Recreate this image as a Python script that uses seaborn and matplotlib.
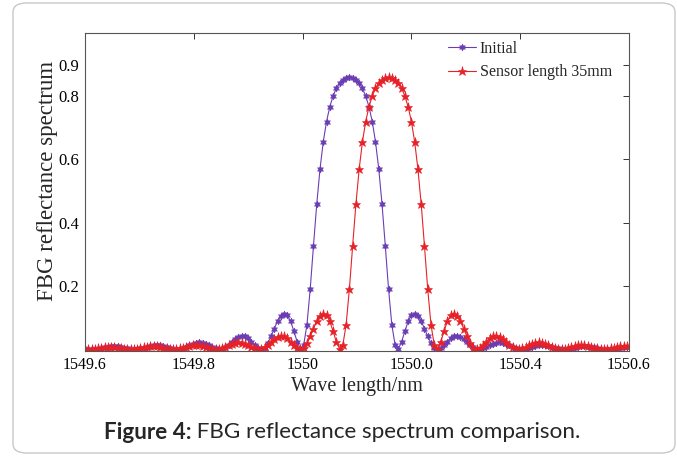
import numpy as np
import pandas as pd
import matplotlib
matplotlib.use("Agg")
import matplotlib.pyplot as plt
from matplotlib.patches import FancyBboxPatch
import seaborn as sns

# ---------------- data ----------------
wl_start = 1549.6   # nm, first sample
wl_step = 0.006     # nm, sample spacing

initial = [
    0.0018, 0.0006, 0.0000, 0.0003, 0.0015, 0.0032, 0.0053, 0.0072, 0.0085, 0.0090,
    0.0084, 0.0069, 0.0048, 0.0026, 0.0009, 0.0000, 0.0004, 0.0021, 0.0047, 0.0077,
    0.0106, 0.0126, 0.0134, 0.0126, 0.0104, 0.0073, 0.0040, 0.0013, 0.0000, 0.0007,
    0.0033, 0.0075, 0.0124, 0.0172, 0.0206, 0.0219, 0.0208, 0.0174, 0.0123, 0.0067,
    0.0021, 0.0000, 0.0014, 0.0064, 0.0144, 0.0239, 0.0330, 0.0396, 0.0424, 0.0405,
    0.0338, 0.0236, 0.0124, 0.0034, 0.0000, 0.0050, 0.0190, 0.0403, 0.0651, 0.0885,
    0.1056, 0.1126, 0.1068, 0.0875, 0.0569, 0.0230, 0.0010, 0.0133, 0.0773, 0.1900,
    0.3268, 0.4588, 0.5698, 0.6560, 0.7200, 0.7668, 0.8005, 0.8249, 0.8414, 0.8517,
    0.8580,
    0.8602,
    0.8580, 0.8517, 0.8414, 0.8249, 0.8005, 0.7668, 0.7200, 0.6560, 0.5698, 0.4588,
    0.3268, 0.1900, 0.0773, 0.0133, 0.0010, 0.0230, 0.0569, 0.0875, 0.1068, 0.1126,
    0.1056, 0.0885, 0.0651, 0.0403, 0.0190, 0.0050, 0.0000, 0.0034, 0.0124, 0.0236,
    0.0338, 0.0405, 0.0424, 0.0396, 0.0330, 0.0239, 0.0144, 0.0064, 0.0014, 0.0000,
    0.0021, 0.0067, 0.0123, 0.0174, 0.0208, 0.0219, 0.0206, 0.0172, 0.0124, 0.0075,
    0.0033, 0.0007, 0.0000, 0.0013, 0.0040, 0.0073, 0.0104, 0.0126, 0.0134, 0.0126,
    0.0106, 0.0077, 0.0047, 0.0021, 0.0004, 0.0000, 0.0009, 0.0026, 0.0048, 0.0069,
    0.0084, 0.0090, 0.0085, 0.0072, 0.0053, 0.0032, 0.0015, 0.0003, 0.0000, 0.0006,
    0.0018, 0.0033, 0.0048, 0.0059, 0.0064,
]

sensor_35mm = [
    0.0004, 0.0000, 0.0003, 0.0011, 0.0024, 0.0039, 0.0053, 0.0062, 0.0064, 0.0059,
    0.0048, 0.0033, 0.0018, 0.0006, 0.0000, 0.0003, 0.0015, 0.0032, 0.0053, 0.0072,
    0.0085, 0.0090, 0.0084, 0.0069, 0.0048, 0.0026, 0.0009, 0.0000, 0.0004, 0.0021,
    0.0047, 0.0077, 0.0106, 0.0126, 0.0134, 0.0126, 0.0104, 0.0073, 0.0040, 0.0013,
    0.0000, 0.0007, 0.0033, 0.0075, 0.0124, 0.0172, 0.0206, 0.0219, 0.0208, 0.0174,
    0.0123, 0.0067, 0.0021, 0.0000, 0.0014, 0.0064, 0.0144, 0.0239, 0.0330, 0.0396,
    0.0424, 0.0405, 0.0338, 0.0236, 0.0124, 0.0034, 0.0000, 0.0050, 0.0190, 0.0403,
    0.0651, 0.0885, 0.1056, 0.1126, 0.1068, 0.0875, 0.0569, 0.0230, 0.0010, 0.0133,
    0.0773, 0.1900, 0.3268, 0.4588, 0.5698, 0.6560, 0.7200, 0.7668, 0.8005, 0.8249,
    0.8414, 0.8517, 0.8580,
    0.8602,
    0.8580, 0.8517, 0.8414, 0.8249, 0.8005, 0.7668, 0.7200, 0.6560, 0.5698, 0.4588,
    0.3268, 0.1900, 0.0773, 0.0133, 0.0010, 0.0230, 0.0569, 0.0875, 0.1068, 0.1126,
    0.1056, 0.0885, 0.0651, 0.0403, 0.0190, 0.0050, 0.0000, 0.0034, 0.0124, 0.0236,
    0.0338, 0.0405, 0.0424, 0.0396, 0.0330, 0.0239, 0.0144, 0.0064, 0.0014, 0.0000,
    0.0021, 0.0067, 0.0123, 0.0174, 0.0208, 0.0219, 0.0206, 0.0172, 0.0124, 0.0075,
    0.0033, 0.0007, 0.0000, 0.0013, 0.0040, 0.0073, 0.0104, 0.0126, 0.0134, 0.0126,
    0.0106, 0.0077, 0.0047, 0.0021, 0.0004, 0.0000, 0.0009, 0.0026, 0.0048, 0.0069,
    0.0084, 0.0090, 0.0085,
]

series_names = ["Initial", "Sensor length 35mm"]
x_ticks = [1549.6, 1549.8, 1550.0, 1550.2, 1550.4, 1550.6]
x_tick_labels = ["1549.6", "1549.8", "1550", "1550.0", "1550.4", "1550.6"]
y_ticks = [0.2, 0.4, 0.6, 0.8, 0.9]
y_tick_labels = ["0.2", "0.4", "0.6", "0.8", "0.9"]

wavelength_1 = np.round(wl_start + wl_step * np.arange(len(initial)), 4)
wavelength_2 = np.round(wl_start + wl_step * np.arange(len(sensor_35mm)), 4)
df = pd.concat([
    pd.DataFrame({"wl": wavelength_1, "R": initial, "series": series_names[0]}),
    pd.DataFrame({"wl": wavelength_2, "R": sensor_35mm, "series": series_names[1]}),
], ignore_index=True)

# ---------------- style ----------------
sns.set_style("white")
plt.rcParams["font.family"] = ["Liberation Serif", "DejaVu Serif"]
plt.rcParams["mathtext.fontset"] = "stix"

W, H = 677, 461
fig = plt.figure(figsize=(W / 100, H / 100), dpi=100)
ax = fig.add_axes([85 / W, 1 - 351 / H, (629 - 85) / W, (351 - 33) / H])

purple = "#6b3db4"
red = "#e62228"
styles = {
    series_names[0]: dict(color=purple, marker=(6, 1, 0), ms=5.0),
    series_names[1]: dict(color=red, marker="*", ms=6.5),
}
for name in series_names:
    st = styles[name]
    sns.lineplot(data=df[df["series"] == name], x="wl", y="R", ax=ax,
                 color=st["color"], linewidth=0.8, marker=st["marker"],
                 markersize=st["ms"], markeredgecolor=st["color"],
                 markeredgewidth=0.4, label=name, sort=False, estimator=None)

ax.set_xlim(1549.6, 1550.6)
ax.set_ylim(-0.006, 1.0)
ax.set_xticks(x_ticks)
ax.set_xticklabels(x_tick_labels, fontsize=11.5)
ax.set_yticks(y_ticks)
ax.set_yticklabels(y_tick_labels, fontsize=12)
ax.tick_params(direction="in", length=4, width=0.7, top=True, right=True,
               colors="#333333", labelcolor="black", pad=4)
for sp in ax.spines.values():
    sp.set_visible(True)
    sp.set_color("#555555")
    sp.set_linewidth(0.8)

ax.set_xlabel("Wave length/nm", fontsize=14.5, labelpad=3)
ax.set_ylabel("FBG reflectance spectrum", fontsize=16.5, labelpad=3)
ax.yaxis.set_label_coords(-0.05, 0.535)

leg = ax.legend(loc="upper left", bbox_to_anchor=(0.655, 0.995), frameon=False,
                fontsize=11.5, handlelength=1.8, handletextpad=0.2,
                labelspacing=0.45, borderaxespad=0.0)

# rounded border around the whole figure
box = FancyBboxPatch((13 / W, 8 / H), (675 - 13) / W, (458 - 8) / H,
                     boxstyle="round,pad=0,rounding_size=0.02",
                     transform=fig.transFigure, fill=False,
                     edgecolor="#c8c8c8", linewidth=1.0)
fig.patches.append(box)

# caption: bold "Figure 4:" followed by regular text, centred
cap_font = ["Lato", "DejaVu Sans"]
cap_size = 16.2
cap_y = 1 - 432 / H
t1 = fig.text(0, cap_y, "Figure 4:", fontsize=cap_size, fontweight="bold",
              family=cap_font, va="center", ha="left")
t2 = fig.text(0, cap_y, " FBG reflectance spectrum comparison.", fontsize=cap_size,
              family=cap_font, va="center", ha="left")
fig.canvas.draw()
r = fig.canvas.get_renderer()
w1 = t1.get_window_extent(r).width
w2 = t2.get_window_extent(r).width
x0 = 342 - (w1 + w2) / 2
t1.set_x(x0 / W)
t2.set_x((x0 + w1) / W)

fig.savefig("out.png", dpi=100)
